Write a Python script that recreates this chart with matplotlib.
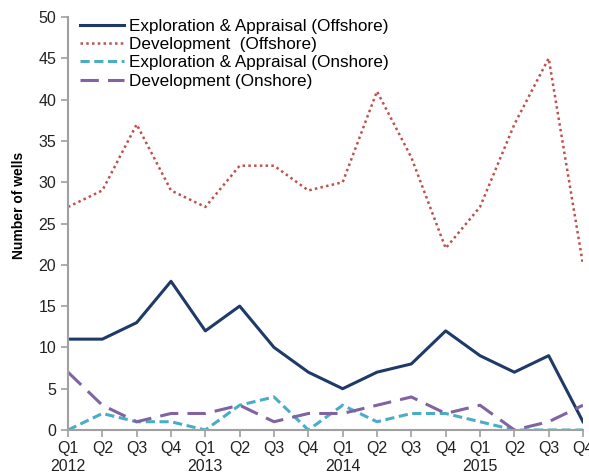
import matplotlib
matplotlib.use("Agg")
import matplotlib.pyplot as plt
import numpy as np

quarters = ["Q1", "Q2", "Q3", "Q4"] * 4
years = ["2012", "2013", "2014", "2015"]

ea_offshore = [11, 11, 13, 18, 12, 15, 10, 7, 5, 7, 8, 12, 9, 7, 9, 1]
dev_offshore = [27, 29, 37, 29, 27, 32, 32, 29, 30, 41, 33, 22, 27, 37, 45, 20]
ea_onshore = [0, 2, 1, 1, 0, 3, 4, 0, 3, 1, 2, 2, 1, 0, 0, 0]
dev_onshore = [7, 3, 1, 2, 2, 3, 1, 2, 2, 3, 4, 2, 3, 0, 1, 3]

plt.rcParams['font.family'] = ['Liberation Sans', 'DejaVu Sans']

fig = plt.figure(figsize=(5.89, 4.75), dpi=100)
ax = fig.add_axes([68 / 589, 45 / 475, (583 - 68) / 589, (430 - 17) / 475])

x = np.arange(len(quarters))
ax.plot(x, ea_offshore, color='#1f3a68', lw=2.2, label='Exploration & Appraisal (Offshore)')
ax.plot(x, dev_offshore, color='#c0504d', lw=1.8, ls=(0, (1, 1.3)), label='Development  (Offshore)')
ax.plot(x, ea_onshore, color='#4bacc6', lw=2.2, ls=(0, (3, 1.5)), label='Exploration & Appraisal (Onshore)')
ax.plot(x, dev_onshore, color='#8064a2', lw=2.2, ls=(0, (6, 3)), label='Development (Onshore)')

ax.set_xlim(0, len(quarters) - 1)
ax.set_ylim(0, 50)
ax.set_yticks(range(0, 51, 5))
ax.set_xticks(x)
ax.set_xticklabels(quarters)
ax.tick_params(axis='both', labelsize=11.5, color='#a0a0a0', length=5, width=1.2,
               colors='#a0a0a0', labelcolor='#222222')
ax.tick_params(axis='x', pad=3)

for i, yr in enumerate(years):
    ax.annotate(yr, (i * 4, 0), xycoords=('data', 'axes fraction'), xytext=(0, -29),
                textcoords='offset pixels', ha='center', va='top', fontsize=11.5, color='#222222')

for s in ['top', 'right']:
    ax.spines[s].set_visible(False)
for s in ['left', 'bottom']:
    ax.spines[s].set_color('#a0a0a0')
    ax.spines[s].set_linewidth(1.5)

ax.set_ylabel('Number of wells', fontsize=10, fontweight='bold')
ax.yaxis.set_label_coords(-0.082, 0.545)

ax.legend(loc='upper left', bbox_to_anchor=(0.0, 1.025), frameon=False, fontsize=12.3,
          handlelength=2.6, handletextpad=0.25, labelspacing=0.2, borderaxespad=0.3)

fig.savefig('out.png', dpi=100)
